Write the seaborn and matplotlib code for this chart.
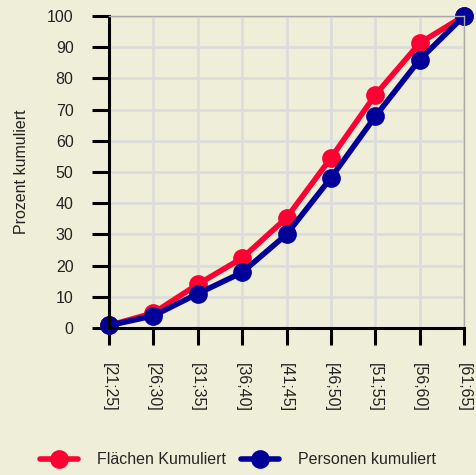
import pandas as pd
import numpy as np
import matplotlib
matplotlib.use("Agg")
import matplotlib.pyplot as plt
import seaborn as sns
from matplotlib.lines import Line2D

# data
categories = ["[21;25]", "[26;30]", "[31;35]", "[36;40]", "[41;45]",
              "[46;50]", "[51;55]", "[56;60]", "[61;65]"]
flaechen = [0.8, 4.8, 14.0, 22.4, 35.3, 54.5, 74.7, 91.3, 100.0]
personen = [0.8, 3.9, 11.0, 17.8, 30.0, 48.1, 67.8, 86.0, 100.0]
series_names = ["Flächen Kumuliert", "Personen kumuliert"]
colors = ["#ff0033", "#000099"]
bg = "#efefd9"
fs = 11.5

df = pd.DataFrame({
    "Altersgruppe": categories * 2,
    "Prozent": flaechen + personen,
    "Serie": [series_names[0]] * len(categories) + [series_names[1]] * len(categories),
})

sns.set_theme(style="whitegrid")
plt.rcParams["font.family"] = ["Liberation Sans", "DejaVu Sans"]
plt.rcParams["font.size"] = fs

fig = plt.figure(figsize=(4.76, 4.75), dpi=100, facecolor=bg)
ax = fig.add_axes([0.229, 0.3095, 0.746, 0.657])
ax.set_facecolor(bg)

sns.lineplot(data=df, x="Altersgruppe", y="Prozent", hue="Serie",
             palette=colors, marker="o", markersize=13.5, linewidth=4,
             markeredgewidth=0, sort=False, legend=False, ax=ax)

ax.set_xlim(0, len(categories) - 1)
ax.set_ylim(0, 100)
ax.set_yticks(np.arange(0, 101, 10))
ax.set_xticks(range(len(categories)))
ax.set_xticklabels(categories, rotation=-90, fontsize=fs, color="#222222")
ax.tick_params(axis="y", labelsize=fs, labelcolor="#222222")
ax.tick_params(axis="both", direction="out", length=12, width=2.2,
               color="black", pad=13.5, left=True, bottom=True)

ax.set_xlabel("")
ax.set_ylabel("Prozent kumuliert", fontsize=fs, color="#222222", labelpad=13)

ax.grid(True, color="#dcdcdc", linewidth=2)
for side in ["left", "bottom"]:
    ax.spines[side].set_color("black")
    ax.spines[side].set_linewidth(2.2)
for side in ["top", "right"]:
    ax.spines[side].set_color("#aaaaaa")
    ax.spines[side].set_linewidth(1)
    ax.spines[side].set_visible(True)
for line in ax.lines:
    line.set_clip_on(False)

handles = [Line2D([0], [0], color=c, linewidth=4, marker="o",
                  markersize=13.5, markeredgewidth=0) for c in colors]
fig.legend(handles, series_names, loc="center", bbox_to_anchor=(0.5, 0.032),
           ncol=2, frameon=False, fontsize=fs, handlelength=2.4,
           columnspacing=0.9, handletextpad=1.2)

fig.savefig("out.png", dpi=100, facecolor=bg)
